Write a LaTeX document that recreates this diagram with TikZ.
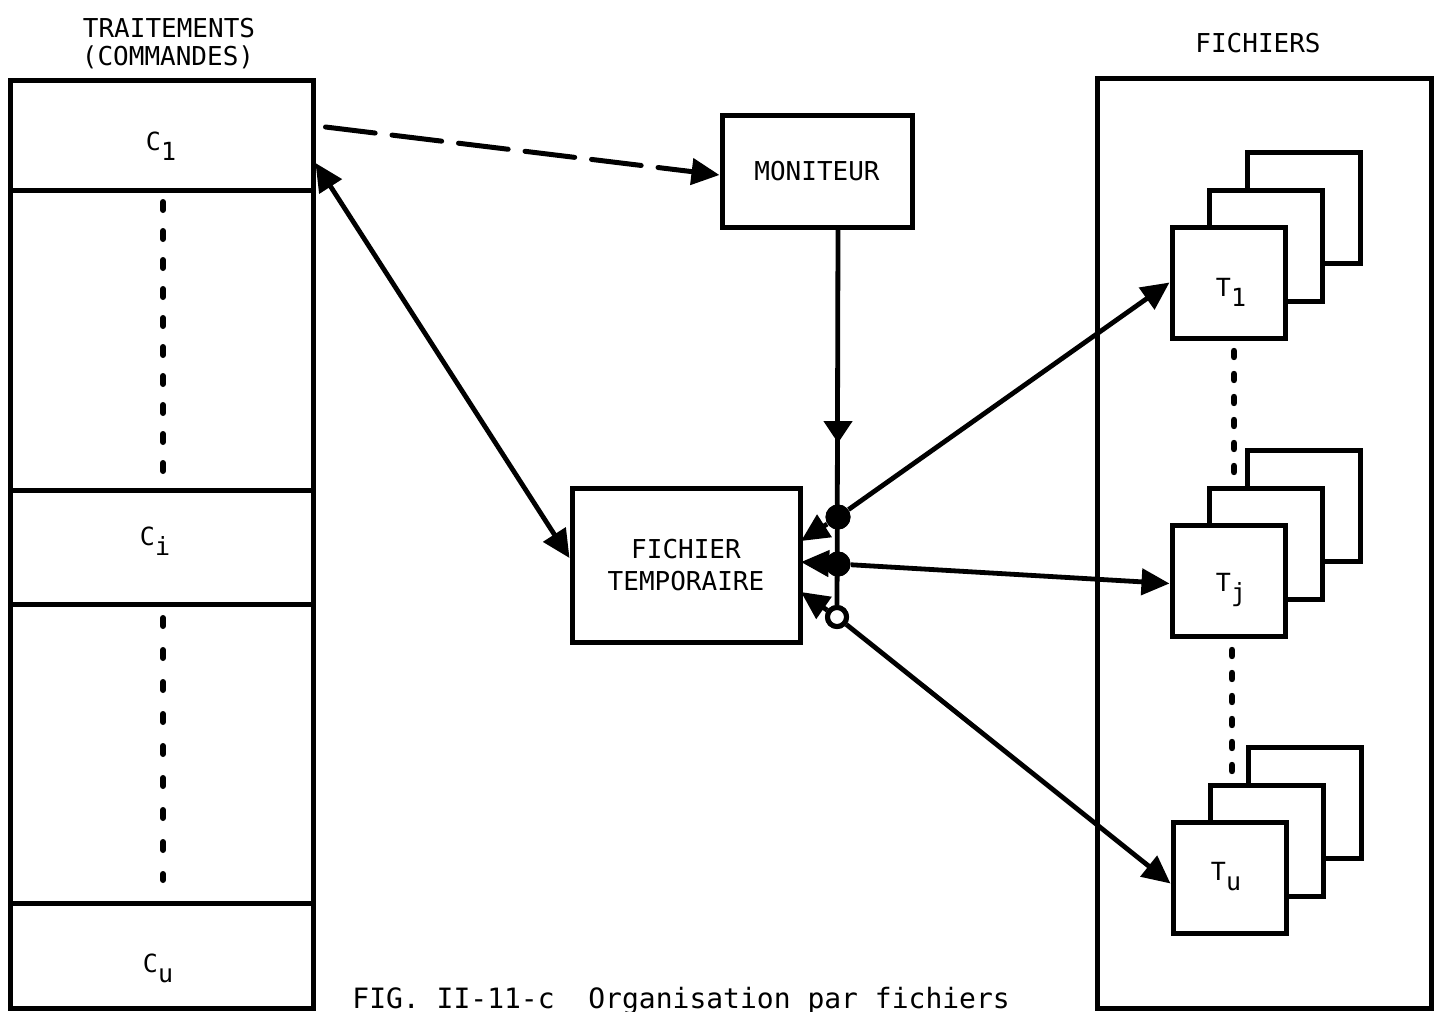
\documentclass[tikz,border=0pt]{standalone}
\usepackage{fontspec}
\setmainfont{DejaVu Sans Mono}
\usetikzlibrary{arrows.meta,fit,calc}
\newcommand{\lowsub}[1]{\raisebox{-5pt}{#1}}
\tikzset{
  box/.style={draw, line width=2.5pt, inner sep=0pt, fill=white},
  lbl/.style={font=\fontsize{13}{16}\selectfont},
  sublbl/.style={font=\fontsize{12.5}{14}\selectfont, inner sep=0pt},
  capt/.style={font=\fontsize{14}{16}\selectfont, inner sep=0pt},
  tip/.style={-{Triangle[length=14pt,width=13pt]}},
  arr/.style={line width=2.4pt, tip},
  darr/.style={line width=2.4pt, {Triangle[length=14pt,width=13pt]}-{Triangle[length=14pt,width=13pt]}},
  midarr/.style={line width=2.4pt, -{Triangle[length=11pt,width=14pt]}},
  plain/.style={line width=2.4pt},
  dasharr/.style={line width=2.5pt, line cap=round, dash pattern=on 25pt off 8.5pt, tip},
  dotleft/.style={line width=3pt, line cap=round, dash pattern=on 4pt off 10.5pt},
  dotleftb/.style={line width=3pt, line cap=round, dash pattern=on 4pt off 12pt},
  dotright/.style={line width=3.2pt, line cap=round, dash pattern=on 3pt off 8.5pt},
  filldot/.style={circle, fill=black, inner sep=0pt, minimum size=12.5pt},
  opendot/.style={circle, draw, line width=2.5pt, fill=white, inner sep=0pt, minimum size=9.5pt},
}
\begin{document}
\begin{tikzpicture}[x=0.5pt,y=-0.5pt]
\useasboundingbox (0,0) rectangle (1436,1012);

% ---- titles
\node[lbl, anchor=base] (ttr) at (169,37) {TRAITEMENTS};
\node[lbl, anchor=base] (tcmd) at (168,65) {(COMMANDES)};
\node[lbl, anchor=base] (tfich) at (1258,53) {FICHIERS};

% ---- left column (commands)
\node[box, fit={(10,80)(313,190)}] (c1) {};
\node[box, fit={(10,190)(313,490)}] (g1) {};
\node[box, fit={(10,490)(313,604)}] (ci) {};
\node[box, fit={(10,604)(313,903)}] (g2) {};
\node[box, fit={(10,903)(313,1008)}] (cu) {};
\node[sublbl] (c1l) at (161,146) {C\lowsub{1}};
\node[sublbl] (cil) at (155,541) {C\lowsub{i}};
\node[sublbl] (cul) at (158,968) {C\lowsub{u}};
\coordinate (d1a) at (163,202);
\coordinate (d1b) at (163,473);
\coordinate (d2a) at (163,618);
\coordinate (d2b) at (163,880);
\draw[dotleft] (d1a) -- (d1b);
\draw[dotleftb] (d2a) -- (d2b);

% ---- right container (files)
\node[box, fit={(1097,78)(1431,1008)}] (files) {};
\coordinate (r1a) at (1234,351);
\coordinate (r1b) at (1234,480);
\coordinate (r2a) at (1232,650);
\coordinate (r2b) at (1232,776);
\draw[dotright] (r1a) -- (r1b);
\draw[dotright] (r2a) -- (r2b);

% T1 stack
\node[box, fit={(1247,152)(1360,263)}] (t1c) {};
\node[box, fit={(1209,190)(1322,301)}] (t1b) {};
\node[box, fit={(1172,227)(1285,338)}] (t1) {};
\node[sublbl] (t1l) at (1231,292) {T\lowsub{1}};
% Tj stack
\node[box, fit={(1247,450)(1360,561)}] (tjc) {};
\node[box, fit={(1209,488)(1322,599)}] (tjb) {};
\node[box, fit={(1172,525)(1285,636)}] (tj) {};
\node[sublbl] (tjl) at (1231,590) {T\lowsub{j}};
% Tu stack
\node[box, fit={(1248,747)(1361,858)}] (tuc) {};
\node[box, fit={(1210,785)(1323,896)}] (tub) {};
\node[box, fit={(1173,822)(1286,933)}] (tu) {};
\node[sublbl] (tul) at (1226,877) {T\lowsub{u}};

% ---- middle boxes
\node[box, lbl, minimum width=95pt, minimum height=56pt] (mon) at (817,171) {MONITEUR};
\node[box, lbl, align=center, minimum width=114pt, minimum height=77pt] (ft) at (686,565) {FICHIER\\TEMPORAIRE};

% ---- switch
\node[filldot] (sw1) at (838,517) {};
\node[filldot] (sw2) at (838,564) {};
\node[opendot] (sw3) at (837,617) {};
\coordinate (marr) at (838,443);
\coordinate (f1) at (801,541);
\coordinate (f2) at (801,562);
\coordinate (f3) at (801,592);

\draw[plain] (mon.south -| sw2) -- (sw3);
\draw[midarr] (mon.south -| sw2) -- (marr);
\draw[arr] (sw1) -- (f1);
\draw[arr] (sw2) -- (f2);
\draw[arr] (sw3) -- (f3);
\draw[arr] (sw1) -- (t1.west);
\draw[arr] (sw2) -- ([yshift=-1.5pt]tj.west);
\draw[arr] (sw3) -- ([yshift=-3pt]tu.west);
\node[filldot] at (sw1) {};
\node[filldot] at (sw2) {};
\node[opendot] at (sw3) {};

% ---- connectors from C1
\draw[dasharr] ([xshift=5pt,yshift=4pt]c1.east) -- ([yshift=-2pt]mon.west);
\draw[darr] ([yshift=-14pt]c1.east) -- ([yshift=3.5pt]ft.west);

% ---- caption
\node[capt, anchor=base west] (cap) at (352,1008) {FIG.~II-11-c~~Organisation par fichiers};
\end{tikzpicture}
\end{document}
